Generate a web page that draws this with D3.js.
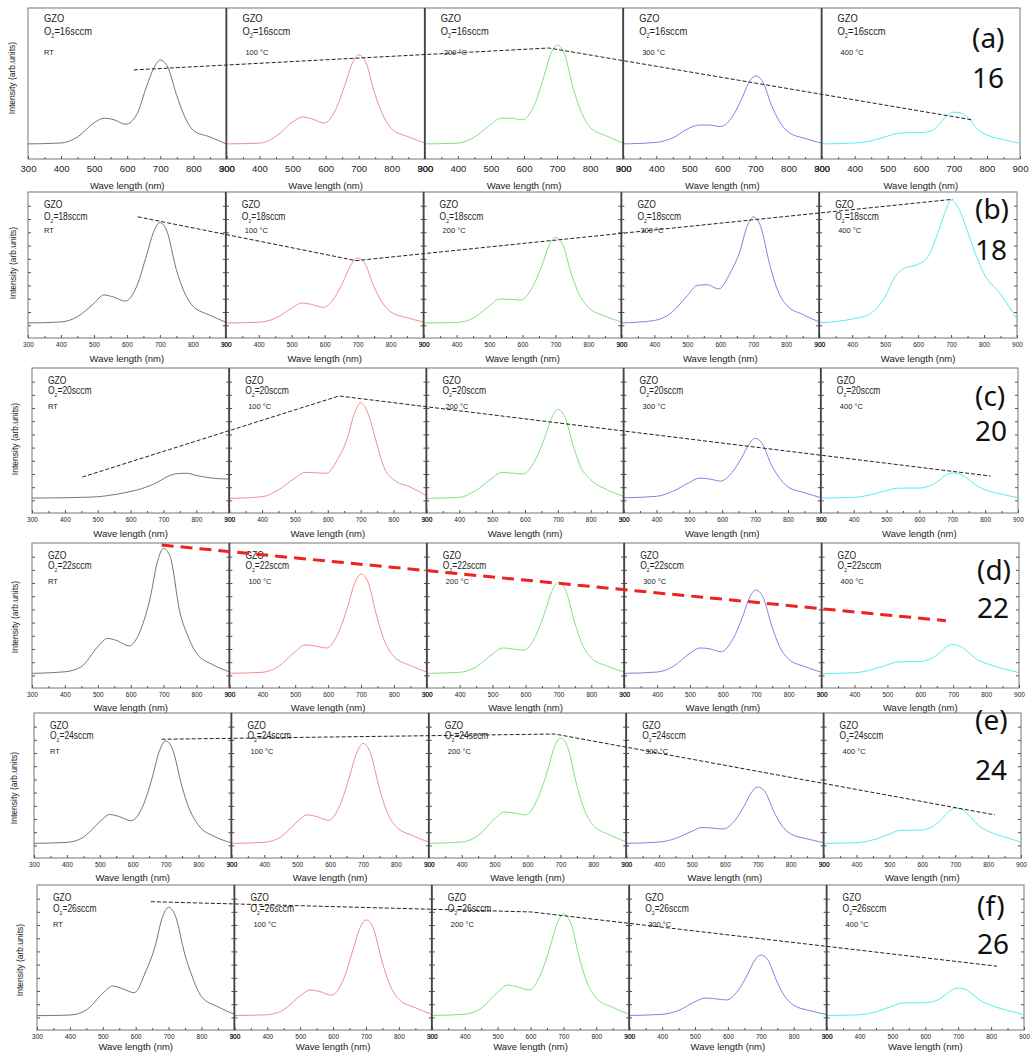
<!DOCTYPE html>
<html><head><meta charset="utf-8">
<script src="https://cdn.jsdelivr.net/npm/d3@7"></script>
<style>body{margin:0;background:#fff}</style>
</head><body><svg id="c" width="1031" height="1058"></svg>
<script>
// ---------------- DATA ----------------
const wavelengths = [300,400,450,500,530,560,595,630,660,680,700,720,750,770,800,850,900];
const temperatures = ["RT","100 \u00B0C","200 \u00B0C","300 \u00B0C","400 \u00B0C"];
const o2Flows = [16,18,20,22,24,26];
const rowLetters = ["(a)","(b)","(c)","(d)","(e)","(f)"];
const xTicks = [300,400,500,600,700,800,900];
const xMinorTicks = [350,450,550,650,750,850];
const yTicks = [8.7,17.8,26.9,36,45.1,54.2,63.3,72.4,81.5,90.6];
const seriesColors = ["#666666","#f28080","#70e070","#7474e4","#48e8e8"];

const series16 = [
 [10,10.6,14.6,24,27,26,23,30,49,60,65.6,62,42,30,19,14.6,10],
 [10,10.5,15,24.5,27.8,26.5,23.8,32.6,50,63,68.9,64.8,42.4,30.6,20,14.7,10.6],
 [10,10.5,14.5,23,27,27,26,35,54.5,69,75.5,70.9,46,32.9,21,15.2,10.5],
 [10,11,14,20.5,22.5,22.5,21.5,28,40.6,50.5,55,51.9,34.8,25.8,17.7,13.6,10.5],
 [10,10.6,12,15.2,17,17.4,17.4,18.5,24,29,31,30.5,25.8,20,16,12.8,10.4]
];
const series18 = [
 [10.3,11,14.6,23.7,29.5,28,25.3,35.5,57,72,79,74,46.8,33.6,21.9,15.8,10.8],
 [10.3,10.8,13.5,20.5,24,23,21,27.7,40.6,50.3,54.8,51.7,34.8,25.9,17.9,13.9,11],
 [10.3,10.6,13.5,22,26.7,26.5,26,34.8,50.2,63.1,69,64.9,42.6,30.8,21,15,11],
 [10.3,12,17,29,36,36.5,33.6,44.6,59.7,75.7,83,77.9,50.3,35,22.7,16.1,11],
 [10.3,13,16,28.3,42,48,50,55.7,72,85,94.5,90,73,60,44,30,13]
];
const series20 = [
 [10.3,10.5,10.8,11.2,12,13,14.6,16.5,19,21,23.6,26,27.3,27.4,25.9,24,23.4],
 [10.1,11.2,16,24,28,27.8,27.4,37,52,68,76,70,47,32,23,18,12],
 [10.1,10.8,15.5,24,28,27.5,27,36,52,65,71.5,67,44,31.5,23,16,11.5],
 [10.5,11.5,15,21,24,23.5,22,28,38.5,47,51.5,48.5,33,25.5,18,14,10.5],
 [10.3,10.8,12.5,15.5,17,17.2,17.2,18.5,22.5,26,27.6,27,23,19.5,16,13,10.5]
];
const series22 = [
 [10.1,11.2,14.7,28.5,34.2,32.5,29,40,63,86,96.3,90.5,51.7,38,24,16,11.2],
 [10.1,10.8,15,25,29.7,29,27.6,37.5,56.5,71.7,78.6,73.7,47.7,33.3,21.7,15.5,11],
 [10.1,10.8,14.5,23.5,27.6,27,26,35.5,53,66.7,73,68.6,44.7,31.4,20.7,15,11],
 [10.1,11,15,24,27.6,27,25,33.6,49.2,61.9,67.6,63.6,41.7,29.6,19.9,14.7,10.8],
 [10,10.5,12.5,16,18,18.2,18.2,20,24.5,28.5,30,29,24,20,17,13.5,10.6]
];
const series24 = [
 [10.1,10.8,14.3,25,30,28.5,25.7,35.4,56,73,80.7,75.6,49,35,22.6,14.7,10.5],
 [10.1,10.8,14.5,25,29.7,28.5,26,36.4,57,72,79,74,48,33.5,21.8,15.5,11],
 [10.1,11,15.5,27,31.7,31,29.7,40.6,59.5,75.5,82.8,77.7,50,35,22.5,16,11],
 [10.1,11,13.5,18.5,21,20.7,20,25.8,36.5,45,49,46.3,31.5,23.3,16.6,13.2,10.6],
 [10.1,10.6,12.5,16.5,19,19.2,19.2,21.5,27,32,34.5,33.5,27.5,22.5,18.5,14.5,11]
];
const series26 = [
 [9.9,10.3,13.8,25.3,30.3,28.5,25.7,40,58.6,77,84.6,79,51.7,38,23,16,10.8],
 [10,10.5,14,23.5,27.6,26.5,24,34,55,69.4,75.9,71.4,46.3,32.4,21.2,15.3,10.8],
 [10,10.8,15,26,31,29.8,27.6,38,57.6,73,80,75,48.5,33.8,22,15.6,10.8],
 [10,10.8,13.5,19.5,22,21.6,20.7,27,38.4,47.5,51.7,48.8,32.9,24.2,17.1,13.3,10.6],
 [10,10.5,12.5,16.5,18.6,18.8,18.8,20,24,27.5,29,28.3,23.5,20,17,13.5,10.6]
];
// trend lines: [panel index, wavelength, intensity]
const trend16 = [[0,620,59],[2,675,73.5],[4,759,25.8]];
const trend18 = [[0,633,83],[1,695,53],[4,705,95]];
const trend20 = [[0,453,24.8],[1,634,80.7],[4,816,25.5]];
const trend22 = [[0,694,98.6],[4,678,46.4]];
const trend24 = [[0,688,81.9],[2,683,85.5],[4,821,29.7]];
const trend26 = [[0,646,88.5],[2,603,81.4],[4,818,44]];

const allSeries = [series16,series18,series20,series22,series24,series26];
const allTrends = [trend16,trend18,trend20,trend22,trend24,trend26];

// ---------------- LAYOUT ----------------
const layout = [
 {top:8,bottom:159,left:28,right:1020,tf:9.5,tp:6.5,titleDy:30,yt:false,ylx:15,yly:78,t:[14,27,46.5],gf:11,lx:972,ly:[48,88]},
 {top:192,bottom:338,left:28,right:1017,tf:6.5,tp:4.5,titleDy:24,yt:true,ylx:16,yly:263,t:[16,28,40.5],gf:10,lx:975,ly:[219,260]},
 {top:368,bottom:513,left:32,right:1018,tf:6.5,tp:4.5,titleDy:24,yt:true,ylx:18,yly:439,t:[15.5,26,41],gf:10,lx:975,ly:[406,441]},
 {top:543,bottom:688,left:32,right:1019,tf:6.5,tp:4.5,titleDy:23,yt:true,ylx:18,yly:617,t:[15.5,26,41],gf:10,lx:977,ly:[580,618]},
 {top:713,bottom:858,left:34,right:1021,tf:6.5,tp:4.5,titleDy:23,yt:true,ylx:17,yly:788,t:[15.5,26,41],gf:10,lx:975,ly:[730,780]},
 {top:885,bottom:1030,left:37,right:1024,tf:6.5,tp:4.5,titleDy:20,yt:true,ylx:23,yly:960,t:[15.5,27,42],gf:10,lx:977,ly:[916,954]}
];

const FONT = "'Liberation Sans', Arial, sans-serif";
const svg = d3.select("#c");
svg.append("rect").attr("width",1031).attr("height",1058).attr("fill","#fff");

function condText(g, x, y, size) {
  return g.append("text")
    .attr("transform", `translate(${x},${y}) scale(0.85,1)`)
    .attr("font-family", FONT).attr("font-size", size).attr("fill", "#222");
}

layout.forEach((lay, r) => {
  const g = svg.append("g");
  const pw = (lay.right - lay.left) / 5;
  const ys = d3.scaleLinear().domain([0,100]).range([lay.bottom, lay.top]);
  const xScales = [];
  for (let p = 0; p < 5; p++) {
    const x0 = lay.left + p * pw;
    const xs = d3.scaleLinear().domain([300,900]).range([x0, x0 + pw]);
    xScales.push(xs);
    g.append("rect").attr("x", x0).attr("y", lay.top).attr("width", pw).attr("height", lay.bottom - lay.top)
      .attr("fill","none").attr("stroke","#777").attr("stroke-width",1);
    const ax = g.append("g").attr("transform", `translate(0,${lay.bottom})`)
      .call(d3.axisBottom(xs).tickValues(xTicks).tickSizeInner(-3).tickSizeOuter(0).tickPadding(lay.tp));
    ax.select(".domain").remove();
    ax.selectAll("line").attr("stroke","#555");
    ax.selectAll("text").attr("font-family", FONT).attr("font-size", lay.tf).attr("fill","#222");
    const axm = g.append("g").attr("transform", `translate(0,${lay.bottom})`)
      .call(d3.axisBottom(xs).tickValues(xMinorTicks).tickSizeInner(-2).tickSizeOuter(0).tickFormat(""));
    axm.select(".domain").remove();
    axm.selectAll("line").attr("stroke","#555");
    if (lay.yt) {
      const yl = g.append("g").attr("transform", `translate(${x0},0)`)
        .call(d3.axisLeft(ys).tickValues(yTicks).tickSizeInner(-3).tickSizeOuter(0).tickFormat(""));
      yl.select(".domain").remove();
      yl.selectAll("line").attr("stroke","#555");
      const yr = g.append("g").attr("transform", `translate(${x0+pw},0)`)
        .call(d3.axisRight(ys).tickValues(yTicks).tickSizeInner(-3).tickSizeOuter(0).tickFormat(""));
      yr.select(".domain").remove();
      yr.selectAll("line").attr("stroke","#555");
    }
    g.append("text").attr("x", x0 + pw/2).attr("y", lay.bottom + lay.titleDy)
      .attr("text-anchor","middle").attr("font-family", FONT).attr("font-size", 9.5).attr("fill","#222")
      .text("Wave length (nm)");
    const vals = allSeries[r][p];
    const pts = wavelengths.map((w,i) => [w, vals[i]]);
    const line = d3.line().x(d => xs(d[0])).y(d => ys(d[1])).curve(d3.curveMonotoneX);
    g.append("path").attr("d", line(pts)).attr("fill","none")
      .attr("stroke", seriesColors[p]).attr("stroke-width",0.9);
    const tx = x0 + 16;
    condText(g, tx, lay.top + lay.t[0], lay.gf).text("GZO");
    const o2 = condText(g, tx, lay.top + lay.t[1], lay.gf);
    o2.append("tspan").text("O");
    o2.append("tspan").attr("font-size", lay.gf*0.6).attr("dy", 3).text("2");
    o2.append("tspan").attr("dy", -3).text("=" + o2Flows[r] + "sccm");
    g.append("text").attr("x", x0 + (p === 0 ? 16 : 19)).attr("y", lay.top + lay.t[2])
      .attr("font-family", FONT).attr("font-size", 7.5).attr("fill","#222").text(temperatures[p]);
  }
  for (let p = 1; p < 5; p++) {
    const xb = lay.left + p * pw;
    g.append("line").attr("x1", xb).attr("x2", xb).attr("y1", lay.top).attr("y2", lay.bottom)
      .attr("stroke","#444").attr("stroke-width",1.8);
  }
  const tr = allTrends[r];
  const tline = d3.line().x(d => xScales[d[0]](d[1])).y(d => ys(d[2]));
  const isRed = r === 3;
  g.append("path").attr("d", tline(tr)).attr("fill","none")
    .attr("stroke", isRed ? "#ee2222" : "#222")
    .attr("stroke-width", isRed ? 3 : 1)
    .attr("stroke-dasharray", isRed ? "12,7" : "4,2");
  g.append("text").attr("transform", `translate(${lay.ylx},${lay.yly}) rotate(-90)`)
    .attr("text-anchor","middle").attr("font-family", FONT).attr("font-size", 8.5).attr("fill","#222")
    .text("Intensity (arb.units)");
  g.append("text").attr("x", lay.lx).attr("y", lay.ly[0]).attr("font-family","'Noto Sans', sans-serif")
    .attr("font-size", 28).attr("fill","#111").text(rowLetters[r]);
  g.append("text").attr("x", lay.lx).attr("y", lay.ly[1]).attr("font-family","'Noto Sans', sans-serif")
    .attr("font-size", 28).attr("fill","#111").text(String(o2Flows[r]));
});
</script>
</body></html>
